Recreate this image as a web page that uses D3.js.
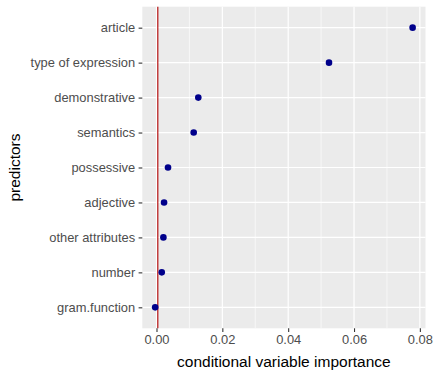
<!DOCTYPE html>
<html>
<head>
<meta charset="utf-8">
<script src="https://cdn.jsdelivr.net/npm/d3@7"></script>
<style>
  body { margin: 0; background: #fff; }
  svg { display: block; font-family: "Liberation Sans", Arial, sans-serif; }
</style>
</head>
<body>
<div id="chart"></div>
<script>
// predictors, top to bottom
const predictors = ['article', 'type of expression', 'demonstrative', 'semantics', 'possessive',
  'adjective', 'other attributes', 'number', 'gram.function'];
const importance = [0.0778, 0.0524, 0.0127, 0.0113, 0.0035, 0.0023, 0.0021, 0.0016, -0.0004];
const xTicks = [0, 0.02, 0.04, 0.06, 0.08];
const xMinor = [0.01, 0.03, 0.05, 0.07];
const cutoff = 0.0004;

const width = 434, height = 370;
const margin = { top: 6.7, right: 8.5, bottom: 41.7, left: 142.3 };
const innerW = width - margin.left - margin.right;
const innerH = height - margin.top - margin.bottom;

const svg = d3.select('#chart').append('svg')
  .attr('width', width)
  .attr('height', height);

const g = svg.append('g')
  .attr('transform', `translate(${margin.left},${margin.top})`);

// ggplot style 5% expansion
const [lo, hi] = d3.extent(importance);
const pad = (hi - lo) * 0.05;
const x = d3.scaleLinear().domain([lo - pad, hi + pad]).range([0, innerW]);

// discrete axis with 0.6 unit expansion
const n = predictors.length;
const step = innerH / (n - 1 + 1.2);
const y = d3.scalePoint().domain(predictors).range([step * 0.6, innerH - step * 0.6]);

// panel
g.append('rect')
  .attr('width', innerW)
  .attr('height', innerH)
  .attr('fill', '#EBEBEB');

// minor gridlines
g.selectAll('.minor')
  .data(xMinor)
  .enter().append('line')
  .attr('x1', d => x(d)).attr('x2', d => x(d))
  .attr('y1', 0).attr('y2', innerH)
  .attr('stroke', '#fff')
  .attr('stroke-width', 0.6);

// major gridlines
g.selectAll('.vmajor')
  .data(xTicks)
  .enter().append('line')
  .attr('x1', d => x(d)).attr('x2', d => x(d))
  .attr('y1', 0).attr('y2', innerH)
  .attr('stroke', '#fff')
  .attr('stroke-width', 1.2);

g.selectAll('.hmajor')
  .data(predictors)
  .enter().append('line')
  .attr('x1', 0).attr('x2', innerW)
  .attr('y1', d => y(d)).attr('y2', d => y(d))
  .attr('stroke', '#fff')
  .attr('stroke-width', 1.2);

// cutoff line
g.append('line')
  .attr('x1', x(cutoff)).attr('x2', x(cutoff))
  .attr('y1', 0).attr('y2', innerH)
  .attr('stroke', '#B81414')
  .attr('stroke-width', 1.2);

// points
g.selectAll('.dot')
  .data(predictors)
  .enter().append('circle')
  .attr('cx', (d, i) => x(importance[i]))
  .attr('cy', d => y(d))
  .attr('r', 3.3)
  .attr('fill', '#00008B');

// axes
const xAxis = g.append('g')
  .attr('transform', `translate(0,${innerH})`)
  .call(d3.axisBottom(x).tickValues(xTicks).tickFormat(d3.format('.2f')).tickSize(3.7).tickPadding(3));

const yAxis = g.append('g')
  .call(d3.axisLeft(y).tickSize(3.7).tickPadding(3.4));

[xAxis, yAxis].forEach(a => {
  a.select('.domain').remove();
  a.selectAll('.tick line').attr('stroke', '#333').attr('stroke-width', 1.1);
  a.selectAll('.tick text')
    .attr('fill', '#4D4D4D')
    .style('font-size', '12.9px')
    .style('font-family', '"Liberation Sans", Arial, sans-serif');
});

// axis titles
svg.append('text')
  .attr('x', margin.left + innerW / 2)
  .attr('y', height - 3.5)
  .attr('text-anchor', 'middle')
  .style('font-size', '15.5px')
  .attr('fill', '#000')
  .text('conditional variable importance');

svg.append('text')
  .attr('transform', `translate(20,${margin.top + innerH / 2}) rotate(-90)`)
  .attr('text-anchor', 'middle')
  .style('font-size', '15.5px')
  .attr('fill', '#000')
  .text('predictors');
</script>
</body>
</html>
